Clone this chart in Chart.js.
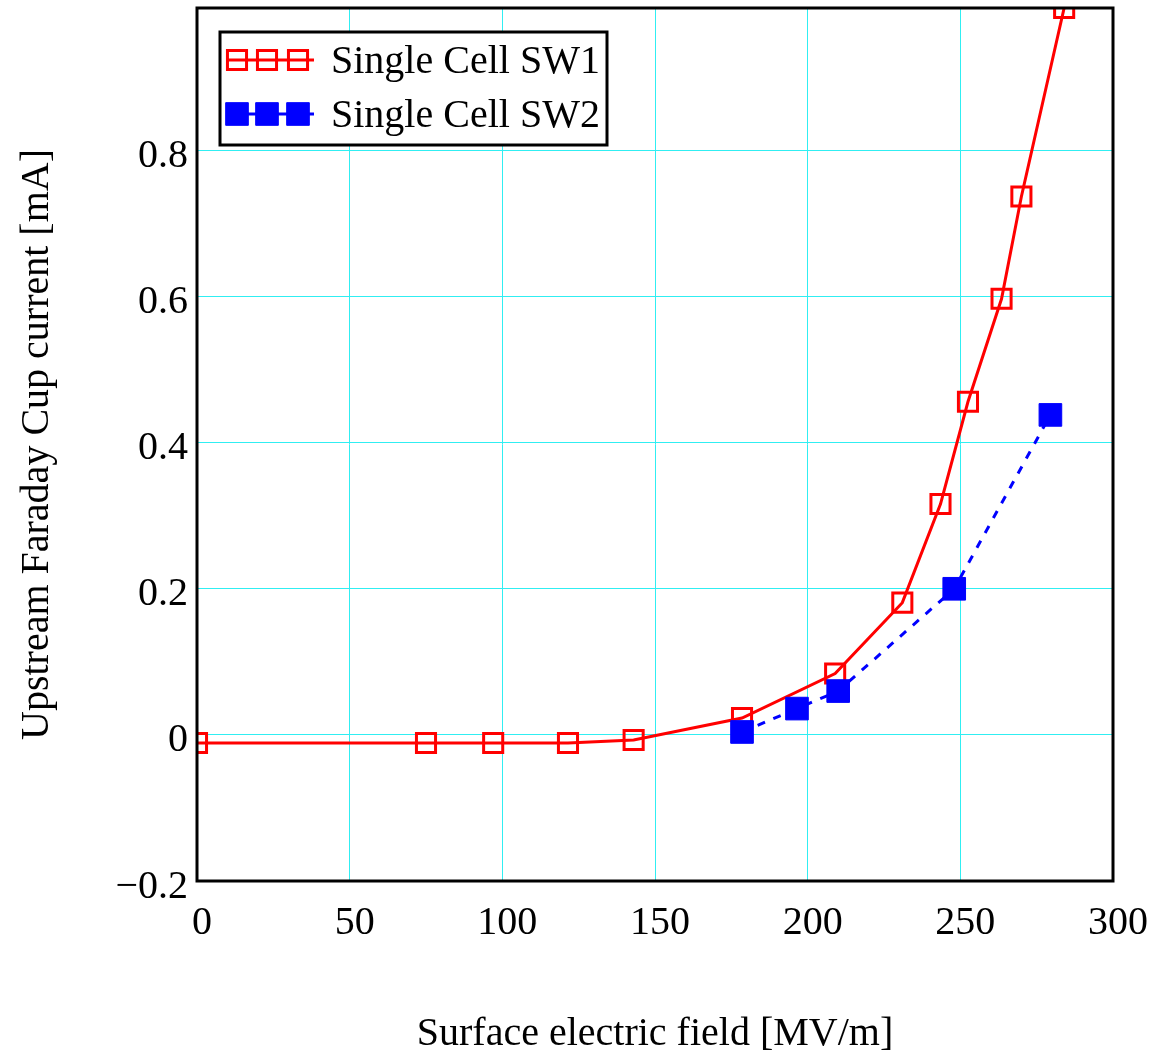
<!DOCTYPE html>
<html>
<head>
<meta charset="utf-8">
<title>Upstream Faraday Cup current</title>
<script src="https://cdn.jsdelivr.net/npm/chart.js@4.4.1/dist/chart.umd.min.js"></script>
<style>
    html, body { margin: 0; padding: 0; background: #fff; }
    #wrap { width: 1153px; height: 1058px; }
</style>
</head>
<body>
<div id="wrap"><canvas id="fcChart" width="1153" height="1058"></canvas></div>
<script>

// data
const fieldSW1   = [0, 75, 97, 121.5, 143, 178.5, 209, 231, 243.5, 252.5, 263.5, 270, 284];
const currentSW1 = [-0.011, -0.011, -0.011, -0.011, -0.007, 0.023, 0.084, 0.181, 0.316, 0.456, 0.597, 0.737, 0.995];

const fieldSW2   = [178.5, 196.5, 210, 248, 279.5];
const currentSW2 = [0.004, 0.036, 0.060, 0.200, 0.438];

const xTicks = [0, 50, 100, 150, 200, 250, 300];
const yTicks = [-0.2, 0, 0.2, 0.4, 0.6, 0.8];

const labelSW1 = "Single Cell SW1";
const labelSW2 = "Single Cell SW2";

const FONT = "'Liberation Serif', 'Times New Roman', serif";
const FSIZE = 40;
const GRID = "#30eef2";


function toPoints(xs, ys){
    return xs.map(function(x, i){ return { x: x, y: ys[i] }; });
}

function fmtY(v){
    let r = Math.round(v * 10) / 10;
    if (r === 0) return "0";
    if (r < 0) return "\u2212" + Math.abs(r).toFixed(1);
    return r.toFixed(1);
}


// black frame round the plot area
const framePlugin = {
    id: 'frame',
    afterDraw(chart){
        const a = chart.chartArea;
        const ctx = chart.ctx;
        ctx.save();
        ctx.strokeStyle = "#000";
        ctx.lineWidth = 3;
        ctx.strokeRect(a.left, a.top, a.right - a.left, a.bottom - a.top);
        ctx.restore();
    }
};

// legend box with three markers per entry
const legendPlugin = {
    id: 'boxLegend',
    afterDatasetsDraw(chart){
        const ctx = chart.ctx;
        const bx = 220, by = 32, bw = 387, bh = 113;
        ctx.save();
        ctx.fillStyle = "#fff";
        ctx.fillRect(bx, by, bw, bh);
        ctx.strokeStyle = "#000";
        ctx.lineWidth = 3;
        ctx.strokeRect(bx, by, bw, bh);

        const rows = [60, 114];
        const marks = [237, 267, 298];

        chart.data.datasets.forEach(function(ds, i){
            let y = rows[i];

            ctx.save();
            ctx.strokeStyle = ds.borderColor;
            ctx.lineWidth = ds.borderWidth;
            ctx.beginPath();
            ctx.moveTo(226, y);
            ctx.lineTo(314, y);
            ctx.stroke();
            ctx.restore();

            marks.forEach(function(mx){
                ctx.save();
                ctx.strokeStyle = ds.pointBorderColor;
                ctx.fillStyle = ds.pointBackgroundColor;
                ctx.lineWidth = ds.pointBorderWidth;
                Chart.helpers.drawPoint(ctx, {
                    pointStyle: 'rect',
                    radius: ds.pointRadius,
                    borderWidth: ds.pointBorderWidth,
                    rotation: 0
                }, mx, y);
                ctx.restore();
            });

            ctx.fillStyle = "#000";
            ctx.font = FSIZE + "px " + FONT;
            ctx.textBaseline = "middle";
            ctx.textAlign = "left";
            ctx.fillText(ds.label, 331, y + 2);
        });

        ctx.restore();
    }
};


function renderChart(){

    new Chart(document.getElementById("fcChart"), {
        type: 'scatter',
        data: {
            datasets: [{
                label: labelSW1,
                data: toPoints(fieldSW1, currentSW1),
                showLine: true,
                borderColor: "#ff0000",
                borderWidth: 3,
                pointStyle: 'rect',
                pointRadius: 13.5,
                pointBorderWidth: 3,
                pointBorderColor: "#ff0000",
                pointBackgroundColor: "rgba(0,0,0,0)",
                tension: 0,
                order: 1
            }, {
                label: labelSW2,
                data: toPoints(fieldSW2, currentSW2),
                showLine: true,
                borderColor: "#0000ff",
                borderWidth: 3,
                borderDash: [8, 9],
                pointStyle: 'rect',
                pointRadius: 16,
                pointBorderWidth: 1,
                pointBorderColor: "#0000ff",
                pointBackgroundColor: "#0000ff",
                tension: 0,
                order: 0
            }]
        },
        options: {
            responsive: false,
            animation: false,
            devicePixelRatio: 1,
            layout: {
                autoPadding: false,
                padding: { top: 8, right: 40, left: 0, bottom: 0 }
            },
            plugins: {
                legend: { display: false },
                tooltip: { enabled: false }
            },
            scales: {
                x: {
                    type: 'linear',
                    min: 0,
                    max: 300,
                    afterFit: function(s){
                        s.height = 177;
                        s.paddingLeft = 0;
                        s.paddingRight = 0;
                    },
                    afterBuildTicks: function(s){
                        s.ticks = xTicks.map(function(v){ return { value: v }; });
                    },
                    grid: { color: GRID, lineWidth: 1, drawTicks: false },
                    border: { display: false },
                    ticks: {
                        color: "#000",
                        padding: 18,
                        labelOffset: 5,
                        maxRotation: 0,
                        font: { family: FONT, size: FSIZE }
                    },
                    title: {
                        display: true,
                        text: "Surface electric field [MV/m]",
                        color: "#000",
                        padding: { top: 0, bottom: 0 },
                        font: { family: FONT, size: FSIZE }
                    }
                },
                y: {
                    type: 'linear',
                    min: -0.2,
                    max: 0.995,
                    afterFit: function(s){
                        s.width = 197;
                        s.paddingTop = 0;
                        s.paddingBottom = 0;
                    },
                    afterBuildTicks: function(s){
                        s.ticks = yTicks.map(function(v){ return { value: v }; });
                    },
                    grid: { color: GRID, lineWidth: 1, drawTicks: false },
                    border: { display: false },
                    ticks: {
                        color: "#000",
                        padding: 9,
                        labelOffset: 6,
                        font: { family: FONT, size: FSIZE },
                        callback: function(v){ return fmtY(v); }
                    },
                    title: {
                        display: true,
                        text: "Upstream Faraday Cup current [mA]",
                        color: "#000",
                        padding: { top: 13, bottom: 0 },
                        font: { family: FONT, size: FSIZE }
                    }
                }
            }
        },
        plugins: [legendPlugin, framePlugin]
    });

}

renderChart();

</script>
</body>
</html>
